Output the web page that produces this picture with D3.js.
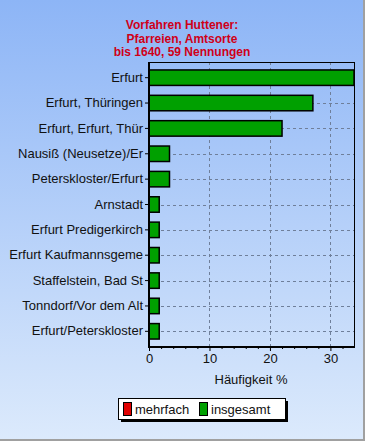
<!DOCTYPE html>
<html><head><meta charset="utf-8">
<script src="https://cdn.jsdelivr.net/npm/d3@7"></script>
<style>
html,body{margin:0;padding:0;background:#fff;}
svg{display:block;font-family:Arial,"Liberation Sans",sans-serif;}
</style></head>
<body>
<script>
const titleLines = ["Vorfahren Huttener:", "Pfarreien, Amtsorte", "bis 1640, 59 Nennungen"];
const categories = ["Erfurt","Erfurt, Thüringen","Erfurt, Erfurt, Thür","Nausiß (Neusetze)/Er","Peterskloster/Erfurt","Arnstadt","Erfurt Predigerkirch","Erfurt Kaufmannsgeme","Staffelstein, Bad St","Tonndorf/Vor dem Alt","Erfurt/Peterskloster"];
const insgesamt = [33.9, 27.1, 22.0, 3.39, 3.39, 1.69, 1.69, 1.69, 1.69, 1.69, 1.69];
const xTicks = [0, 10, 20, 30];
const xMinorTicks = [2,4,6,8,12,14,16,18,22,24,26,28,32];
const xMax = 33.9;
const xLabel = "Häufigkeit %";
const legendLabels = ["mehrfach", "insgesamt"];
const legendColors = ["#e00000", "#00a000"];

const W = 365, H = 441;
const svg = d3.select("body").append("svg").attr("width", W).attr("height", H);
const defs = svg.append("defs");
const g = defs.append("linearGradient").attr("id","bg").attr("x1",0).attr("y1",0).attr("x2",0).attr("y2",1);
g.append("stop").attr("offset","0%").attr("stop-color","#8db5f6");
g.append("stop").attr("offset","100%").attr("stop-color","#dceafc");
svg.append("rect").attr("width",W).attr("height",H).attr("fill","url(#bg)");
// 3D frame
svg.append("line").attr("x1",0).attr("y1",H-1).attr("x2",W).attr("y2",H-1).attr("stroke","#a0a0a0").attr("stroke-width",2);
svg.append("line").attr("x1",W-1).attr("y1",0).attr("x2",W-1).attr("y2",H).attr("stroke","#a0a0a0").attr("stroke-width",2);

// title
svg.append("g").selectAll("text").data(titleLines).join("text")
  .attr("x", 182).attr("y", (d,i)=>29 + i*13.5)
  .attr("text-anchor","middle").attr("font-size","12px").attr("font-weight","bold")
  .attr("fill","#d00018").text(d=>d);

const pLeft = 149, pRight = 354, pTop = 62, pBottom = 347;
const x = d3.scaleLinear().domain([0, xMax]).range([pLeft, pRight]);
const y = d3.scaleBand().domain(categories).range([65, 344]).paddingInner(0.39).paddingOuter(0.195);

// grid
const grid = svg.append("g").attr("stroke","#6f7f9a").attr("stroke-width",1).attr("stroke-dasharray","3,3");
grid.selectAll("line.v").data(xTicks.filter(t=>t>0)).join("line")
  .attr("x1",d=>Math.round(x(d))+0.5).attr("x2",d=>Math.round(x(d))+0.5).attr("y1",pTop).attr("y2",pBottom);
grid.selectAll("line.h").data(categories).join("line")
  .attr("x1",pLeft).attr("x2",pRight).attr("y1",d=>Math.round(y(d)+y.bandwidth()/2)+0.5).attr("y2",d=>Math.round(y(d)+y.bandwidth()/2)+0.5);

// bars
svg.append("g").selectAll("rect").data(categories).join("rect")
  .attr("x", x(0)).attr("y", d=>y(d))
  .attr("width", (d,i)=>x(insgesamt[i]) - x(0)).attr("height", y.bandwidth())
  .attr("fill","#00a000").attr("stroke","#000").attr("stroke-width",1.5);

// frame top/right
svg.append("line").attr("x1",pLeft).attr("x2",pRight).attr("y1",pTop+0.5).attr("y2",pTop+0.5).attr("stroke","#000");
svg.append("line").attr("x1",pRight+0.5).attr("x2",pRight+0.5).attr("y1",pTop).attr("y2",pBottom).attr("stroke","#000");

// x axis
const xAxis = d3.axisBottom(x).tickValues(xTicks).tickSize(4).tickPadding(3).tickFormat(d3.format("d"));
const xa = svg.append("g").attr("transform",`translate(0,${pBottom})`).call(xAxis);
xa.select(".domain").remove();
xa.selectAll("text").attr("font-size","13px").attr("fill","#111").attr("font-family","Arial, Liberation Sans, sans-serif");
xa.selectAll("line").attr("stroke","#000");
const xm = d3.axisBottom(x).tickValues(xMinorTicks).tickSize(2).tickFormat("");
const xma = svg.append("g").attr("transform",`translate(0,${pBottom})`).call(xm);
xma.select(".domain").remove();
xma.selectAll("line").attr("stroke","#000");

// y axis
const yAxis = d3.axisLeft(y).tickSize(4).tickPadding(2);
const ya = svg.append("g").attr("transform",`translate(${pLeft},0)`).call(yAxis);
ya.select(".domain").remove();
ya.selectAll("text").attr("font-size","13px").attr("fill","#111").attr("font-family","Arial, Liberation Sans, sans-serif");
ya.selectAll("line").attr("stroke","#000");

// main axis lines (thick)
svg.append("line").attr("x1",pLeft).attr("x2",pLeft).attr("y1",pTop).attr("y2",pBottom+1).attr("stroke","#000").attr("stroke-width",2);
svg.append("line").attr("x1",pLeft-1).attr("x2",pRight+1).attr("y1",pBottom).attr("y2",pBottom).attr("stroke","#000").attr("stroke-width",2);

svg.append("text").attr("x",251).attr("y",384).attr("text-anchor","middle").attr("font-size","13px").attr("fill","#111").text(xLabel);

// legend
const lg = svg.append("g");
lg.append("rect").attr("x",121).attr("y",401).attr("width",167).attr("height",21).attr("fill","#000");
lg.append("rect").attr("x",118.5).attr("y",398.5).attr("width",167).attr("height",21).attr("fill","#fff").attr("stroke","#000");
const items = lg.selectAll("g").data(legendLabels).join("g")
  .attr("transform",(d,i)=>`translate(${i===0?123:199},0)`);
items.append("rect").attr("x",0.5).attr("y",402.5).attr("width",8).attr("height",13)
  .attr("fill",(d,i)=>legendColors[i]).attr("stroke","#000");
items.append("text").attr("x",12).attr("y",413.5).attr("font-size","13px").attr("fill","#111").text(d=>d);
</script>
</body></html>
